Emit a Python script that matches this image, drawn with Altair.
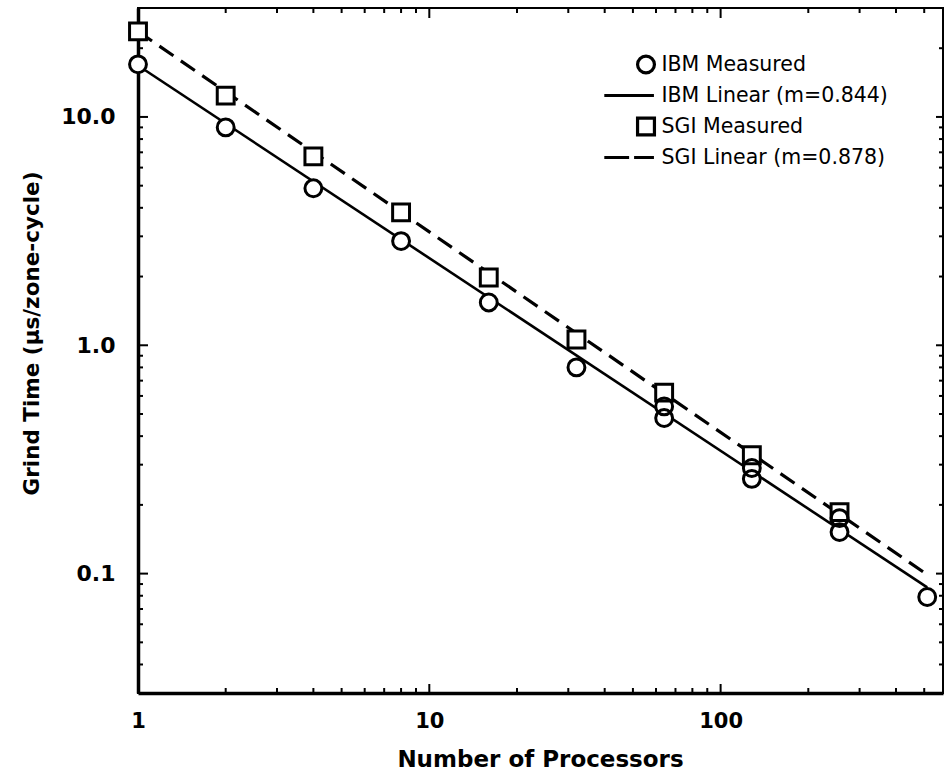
import altair as alt
import pandas as pd

# ---- data ----
ibm_procs = [1, 2, 4, 8, 16, 32, 64, 128, 256, 512]
ibm_measured = [17.0, 9.0, 4.87, 2.86, 1.54, 0.80, 0.48, 0.26, 0.152, 0.079]
ibm_extra_procs = [64, 128, 256]
ibm_extra = [0.54, 0.29, 0.175]
sgi_procs = [1, 2, 4, 8, 16, 32, 64, 128, 256]
sgi_measured = [23.7, 12.4, 6.72, 3.82, 1.98, 1.06, 0.62, 0.33, 0.186]
fit_procs = [1, 512]
ibm_fit = [16.8, 0.087]
sgi_fit = [23.7, 0.099]

labels = ["IBM Measured", "IBM Linear (m=0.844)", "SGI Measured", "SGI Linear (m=0.878)"]

x_labels = [1, 10, 100]
x_major = [10, 100]
x_minor = [2, 3, 4, 5, 6, 7, 8, 9, 20, 30, 40, 50, 60, 70, 80, 90, 200, 300, 400, 500]
y_labels = [0.1, 1, 10]
y_major = [0.1, 1, 10]
y_minor = [0.04, 0.05, 0.06, 0.07, 0.08, 0.09, 0.2, 0.3, 0.4, 0.5, 0.6, 0.7, 0.8, 0.9,
           2, 3, 4, 5, 6, 7, 8, 9, 20]

# ---- tables ----
pts = pd.concat([
    pd.DataFrame({"procs": sgi_procs, "time": sgi_measured, "label": labels[2]}),
    pd.DataFrame({"procs": ibm_procs, "time": ibm_measured, "label": labels[0]}),
    pd.DataFrame({"procs": ibm_extra_procs, "time": ibm_extra, "label": labels[0]}),
], ignore_index=True)
ibm_line = pd.DataFrame({"procs": fit_procs, "time": ibm_fit})
sgi_line = pd.DataFrame({"procs": fit_procs, "time": sgi_fit})

W, H = 805, 685
FONT = "DejaVu Sans"
SIZE = 285

xs = alt.Scale(type="log", domain=[1, 580], nice=False)
ys = alt.Scale(type="log", domain=[0.03, 30], nice=False)

x_axis = alt.Axis(
    values=x_labels, format="d", ticks=False, tickSize=0, grid=False,
    domainColor="black", domainWidth=3.5,
    labelFont=FONT, labelFontSize=21, labelFontWeight="bold", labelColor="black",
    labelPadding=17, labelFlush=False,
    title="Number of Processors", titleFont=FONT, titleFontSize=23,
    titleFontWeight="bold", titleColor="black",
    titleX=402, titleY=73, titleAlign="center", titleBaseline="alphabetic")
y_axis = alt.Axis(
    values=y_labels, format=".1f", ticks=False, tickSize=0, grid=False,
    domainColor="black", domainWidth=3.5,
    labelFont=FONT, labelFontSize=22, labelFontWeight="bold", labelColor="black",
    labelPadding=23, labelFlush=False,
    title="Grind Time (µs/zone-cycle)", titleFont=FONT, titleFontSize=21.5,
    titleFontWeight="bold", titleColor="black", titleAngle=270,
    titleX=-100, titleY=325, titleAlign="center", titleBaseline="alphabetic")

line_path = "M-4.94,0H0.94"
dash_path = "M-4.94,0H-2M-1.41,0H0.94"

enc_x = alt.X("procs:Q", scale=xs, axis=x_axis)
enc_y = alt.Y("time:Q", scale=ys, axis=y_axis)

# white interiors of the markers (hide the fit lines behind them)
white_sq = alt.Chart(pts).transform_filter(
    alt.datum.label == labels[2]
).mark_point(filled=True, color="white", shape="square", size=SIZE, opacity=1).encode(
    x=enc_x, y=enc_y)
white_ci = alt.Chart(pts).transform_filter(
    alt.datum.label == labels[0]
).mark_point(filled=True, color="white", shape="circle", size=SIZE, opacity=1).encode(
    x=enc_x, y=enc_y)

points = alt.Chart(pts).mark_point(
    filled=False, color="black", strokeWidth=3, size=SIZE, opacity=1
).encode(
    x=enc_x,
    y=enc_y,
    shape=alt.Shape("label:N", scale=alt.Scale(
        domain=labels, range=["circle", line_path, "square", dash_path]),
        legend=alt.Legend(
            orient="none", legendX=497.5, legendY=46, title=None,
            symbolSize=SIZE, symbolStrokeWidth=3.2,
            labelFont=FONT, labelFontSize=20.5, labelColor="black",
            labelOffset=5, rowPadding=5, labelLimit=400)),
)

ibm_fit_line = alt.Chart(ibm_line).mark_line(color="black", strokeWidth=2.6).encode(
    x=enc_x, y=enc_y)
sgi_fit_line = alt.Chart(sgi_line).mark_line(
    color="black", strokeWidth=3.2, strokeDash=[17, 9]
).encode(x=enc_x, y=enc_y)


def y_ticks(vals, x0, x1):
    return alt.Chart(pd.DataFrame({"time": vals})).mark_rule(
        color="black", strokeWidth=2
    ).encode(
        y=alt.Y("time:Q", scale=ys, axis=y_axis),
        x=alt.value(x0), x2=alt.value(x1),
    )


def x_ticks(vals, y0, y1):
    return alt.Chart(pd.DataFrame({"procs": vals})).mark_rule(
        color="black", strokeWidth=2
    ).encode(
        x=alt.X("procs:Q", scale=xs, axis=x_axis),
        y=alt.value(y0), y2=alt.value(y1),
    )


ticks = [
    y_ticks(y_major, 0, 10), y_ticks(y_minor, 0, 5),
    y_ticks(y_major, W, W - 7), y_ticks(y_minor, W, W - 4),
    x_ticks(x_major, 0, 10), x_ticks(x_minor, 0, 5),
    x_ticks(x_major, H, H - 9), x_ticks(x_minor, H, H - 5),
]

chart = alt.layer(
    *ticks, ibm_fit_line, sgi_fit_line, white_sq, white_ci, points
).properties(
    width=W, height=H,
    autosize=alt.AutoSizeParams(type="none"),
    padding={"left": 138, "top": 8, "right": 3, "bottom": 80},
    background="white",
).configure(
    font=FONT,
    view=alt.ViewConfig(stroke="black", strokeWidth=2),
)

chart.save("out.html", embed_options={"renderer": "svg", "actions": False})
